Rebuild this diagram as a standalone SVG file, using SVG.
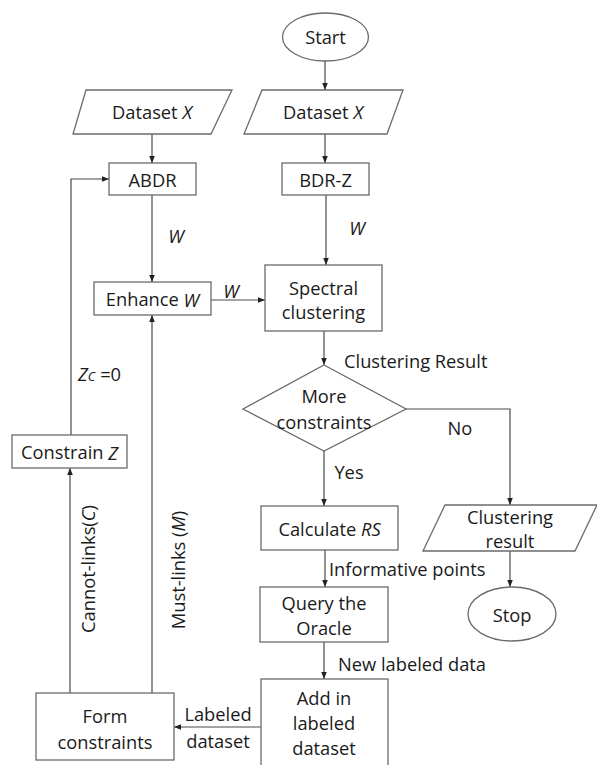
<svg xmlns="http://www.w3.org/2000/svg" width="597" height="765" viewBox="0 0 597 765">
<defs>
<style>
.s{fill:#fff;stroke:#6b6b6b;stroke-width:1.3}
.c{fill:none;stroke:#4a4a4a;stroke-width:1.2}
text{font-family:"Open Sans","Noto Sans",sans-serif;font-size:18.3px;fill:#1a1a1a;text-anchor:middle;dominant-baseline:central}
.l{text-anchor:start}
</style>
<marker id="a" viewBox="0 0 10 10" refX="10" refY="5" markerWidth="7" markerHeight="7" orient="auto" markerUnits="userSpaceOnUse"><path d="M0,1 L10,5 L0,9 z" fill="#222"/></marker>
</defs>
<rect width="597" height="765" fill="#fff"/>
<g id="connectors">
<line class="c" x1="325" y1="61" x2="325" y2="90" marker-end="url(#a)"/>
<line class="c" x1="152" y1="134" x2="152" y2="163" marker-end="url(#a)"/>
<line class="c" x1="325" y1="134" x2="325" y2="163" marker-end="url(#a)"/>
<line class="c" x1="152" y1="195" x2="152" y2="282" marker-end="url(#a)"/>
<line class="c" x1="326" y1="195" x2="326" y2="265" marker-end="url(#a)"/>
<line class="c" x1="211" y1="300" x2="265" y2="300" marker-end="url(#a)"/>
<line class="c" x1="324" y1="331" x2="324" y2="365" marker-end="url(#a)"/>
<polyline class="c" points="406,409 510,409 510,505" marker-end="url(#a)"/>
<line class="c" x1="324" y1="451" x2="324" y2="506" marker-end="url(#a)"/>
<line class="c" x1="510" y1="551" x2="510" y2="587" marker-end="url(#a)"/>
<line class="c" x1="325" y1="550" x2="325" y2="587" marker-end="url(#a)"/>
<line class="c" x1="324" y1="642" x2="324" y2="679" marker-end="url(#a)"/>
<line class="c" x1="261" y1="727" x2="174" y2="727" marker-end="url(#a)"/>
<line class="c" x1="70" y1="693" x2="70" y2="468" marker-end="url(#a)"/>
<polyline class="c" points="71,435 71,179 109,179" marker-end="url(#a)"/>
<line class="c" x1="152" y1="693" x2="152" y2="315" marker-end="url(#a)"/>
<text x="176" y="235" font-style="italic">W</text>
<text x="357" y="227" font-style="italic">W</text>
<text x="231" y="290" font-style="italic">W</text>
<text class="l" x="344" y="360">Clustering Result</text>
<text x="460" y="427">No</text>
<text x="349" y="471">Yes</text>
<text class="l" x="329" y="568">Informative points</text>
<text class="l" x="338" y="663">New labeled data</text>
<text x="218" y="713">Labeled</text>
<text x="218" y="740">dataset</text>
<text class="l" x="78" y="373"><tspan font-style="italic">Z<tspan font-size="13" dy="3">C</tspan></tspan><tspan dy="-3"> =0</tspan></text>
<text transform="translate(87,569) rotate(-90)">Cannot-links(<tspan font-style="italic">C</tspan>)</text>
<text transform="translate(177,570) rotate(-90)">Must-links (<tspan font-style="italic">M</tspan>)</text>
</g>
<g id="start"><ellipse class="s" cx="325.5" cy="37" rx="43" ry="24"/><text x="325.5" y="36">Start</text></g>
<g id="datasetL"><polygon class="s" points="86,90 232,90 211,134 73,134"/><text x="152" y="111">Dataset <tspan font-style="italic">X</tspan></text></g>
<g id="datasetR"><polygon class="s" points="262,90 403,90 387,134 244,134"/><text x="323" y="111">Dataset <tspan font-style="italic">X</tspan></text></g>
<g id="abdr"><rect class="s" x="109" y="163" width="87" height="32"/><text x="152.5" y="179">ABDR</text></g>
<g id="bdrz"><rect class="s" x="282" y="163" width="87" height="32"/><text x="325.5" y="179">BDR-Z</text></g>
<g id="enhance"><rect class="s" x="94" y="282" width="117" height="33"/><text x="152.5" y="298.5">Enhance <tspan font-style="italic">W</tspan></text></g>
<g id="spectral"><rect class="s" x="265" y="265" width="117" height="66"/><text x="323.5" y="287">Spectral</text><text x="323.5" y="311">clustering</text></g>
<g id="decision"><polygon class="s" points="324,365 406,409 324,451 243,409"/><text x="324" y="395">More</text><text x="324" y="421">constraints</text></g>
<g id="calc"><rect class="s" x="261" y="506" width="137" height="44"/><text x="329.5" y="528">Calculate <tspan font-style="italic">RS</tspan></text></g>
<g id="result"><polygon class="s" points="445,505 597,505 575,551 423,551"/><text x="510" y="516">Clustering</text><text x="510" y="540">result</text></g>
<g id="stop"><ellipse class="s" cx="512" cy="614" rx="44" ry="27"/><text x="512" y="614">Stop</text></g>
<g id="query"><rect class="s" x="260" y="587" width="128" height="55"/><text x="324" y="602">Query the</text><text x="324" y="627">Oracle</text></g>
<g id="add"><rect class="s" x="261" y="679" width="127" height="95"/><text x="324" y="697">Add in</text><text x="324" y="722">labeled</text><text x="324" y="747">dataset</text></g>
<g id="form"><rect class="s" x="36" y="693" width="138" height="67"/><text x="105" y="715">Form</text><text x="105" y="741">constraints</text></g>
<g id="constrain"><rect class="s" x="12" y="435" width="115" height="33"/><text x="69.5" y="451.5">Constrain <tspan font-style="italic">Z</tspan></text></g>
</svg>
